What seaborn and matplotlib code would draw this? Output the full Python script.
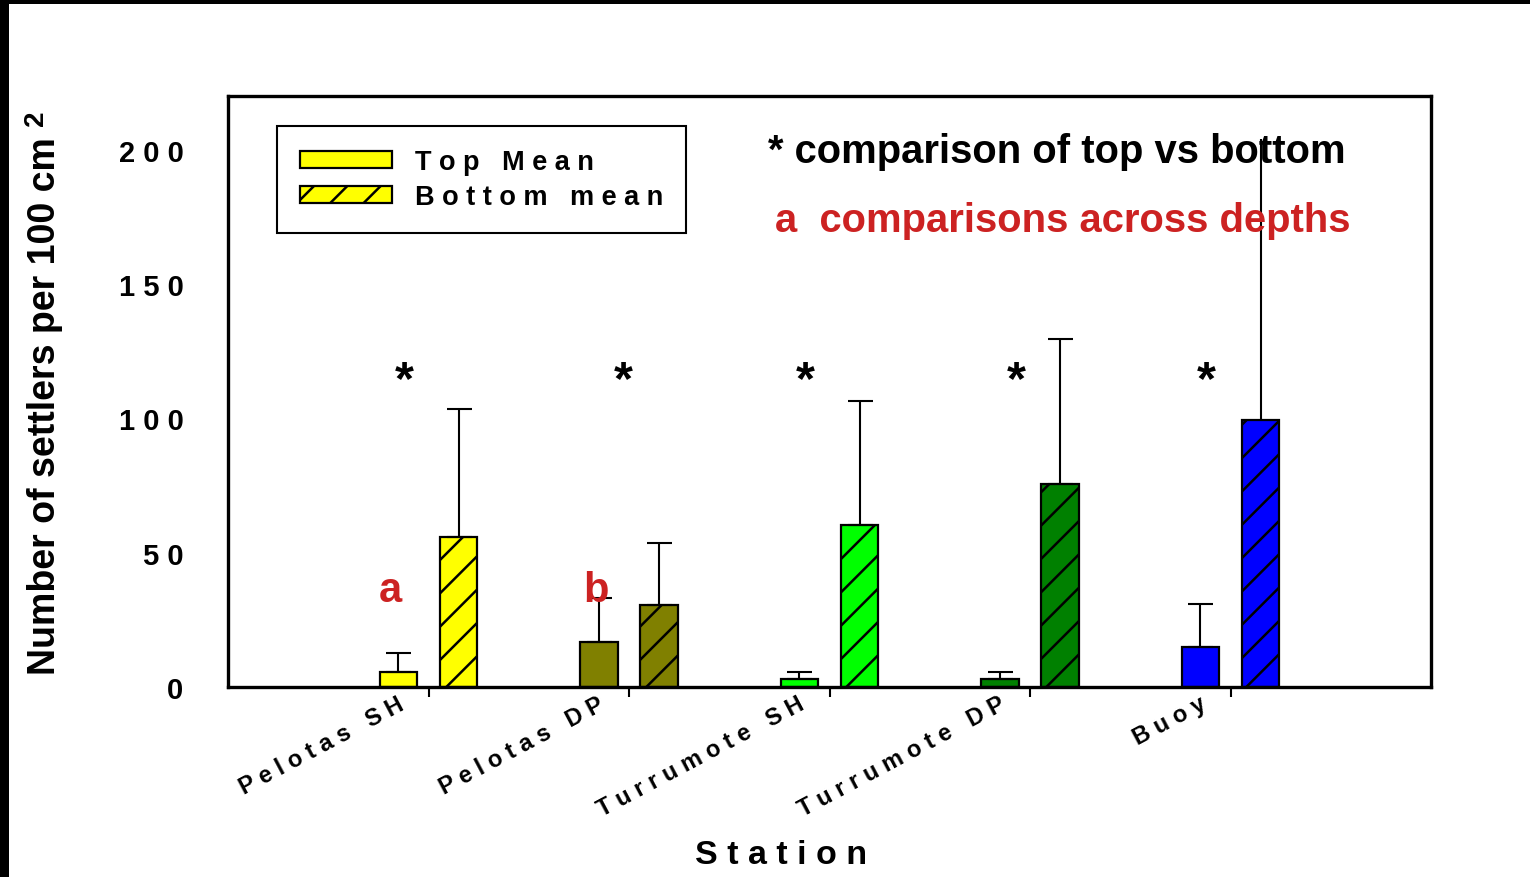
import matplotlib
matplotlib.use("Agg")
import matplotlib.pyplot as plt
import matplotlib.transforms as mtransforms
from matplotlib.patches import Patch, Rectangle
import numpy as np
import pandas as pd
import seaborn as sns

# ---------------- data ----------------
stations = ["Pelotas SH", "Pelotas DP", "Turrumote SH", "Turrumote DP", "Buoy"]
station_colors = ["#FFFF00", "#808000", "#00FF00", "#008000", "#0000FF"]
top_mean = [5.6, 16.8, 3.0, 3.0, 14.9]
top_err = [7.1, 16.3, 2.6, 2.6, 16.0]
bottom_mean = [55.9, 30.5, 60.3, 75.6, 99.4]
bottom_err = [47.7, 23.1, 46.2, 54.0, 104.5]
series_names = ["Top Mean", "Bottom mean"]
y_ticks = [0, 50, 100, 150, 200]
star_groups = [0, 1, 2, 3, 4]
depth_letters = ["a", "b"]

# ---------------- style ----------------
sns.set_style("white")
plt.rcParams["font.family"] = ["Liberation Sans", "DejaVu Sans"]
plt.rcParams["font.weight"] = "bold"
plt.rcParams["hatch.linewidth"] = 1.8
for key in ["text.color", "axes.labelcolor", "xtick.color", "ytick.color", "axes.edgecolor"]:
    plt.rcParams[key] = "black"


def spaced(s, sep=" "):
    return sep.join(s)


positions = np.arange(1, len(stations) + 1)
df = pd.DataFrame({
    "pos": np.concatenate([positions, positions]),
    "value": top_mean + bottom_mean,
    "level": [series_names[0]] * len(stations) + [series_names[1]] * len(stations),
})

fig = plt.figure(figsize=(15.3, 8.78), dpi=100)
ax = fig.add_axes([228 / 1530, 1 - 688 / 878, 1203 / 1530, 591 / 878])

sns.barplot(data=df, x="pos", y="value", hue="level", hue_order=series_names,
            native_scale=True, width=0.6, gap=0.38, errorbar=None,
            edgecolor="black", linewidth=1.5, legend=False, ax=ax)

bar_containers = list(ax.containers)
errs = [top_err, bottom_err]
for k, cont in enumerate(bar_containers):
    xs = []
    for bar, col in zip(cont, station_colors):
        bar.set_facecolor(col)
        bar.set_edgecolor("black")
        bar.set_linewidth(1.6)
        if k == 1:
            bar.set_hatch("/")
        xs.append(bar.get_x() + bar.get_width() / 2)
    heights = np.array([b.get_height() for b in cont])
    e = np.array(errs[k], dtype=float)
    capped = np.ones(len(e), dtype=bool)
    if k == 1:
        capped[-1] = False  # tallest error bar runs under the note, no cap visible
    xs = np.array(xs)
    ax.errorbar(xs[capped], heights[capped], yerr=[np.zeros(capped.sum()), e[capped]],
                fmt="none", ecolor="black", elinewidth=1.5, capsize=9, capthick=1.5, zorder=1)
    if (~capped).any():
        ax.errorbar(xs[~capped], heights[~capped], yerr=[np.zeros((~capped).sum()), e[~capped]],
                    fmt="none", ecolor="black", elinewidth=1.5, capsize=0, zorder=1)

# axes limits / ticks
ax.set_xlim(0, len(stations) + 1)
ax.set_ylim(0, 220)
ax.set_xticks(positions)
ax.set_xticklabels([])
label_tf = ax.get_xaxis_transform() + mtransforms.ScaledTranslation(-32 / 100, -5 / 100, fig.dpi_scale_trans)
for p, s in zip(positions, stations):
    ax.text(p, 0, spaced(s), transform=label_tf, rotation=28, ha="right", va="top",
            rotation_mode="anchor", fontsize=17, fontweight="bold", clip_on=False)
ax.set_yticks(y_ticks)
ax.set_yticklabels([spaced(str(v)) for v in y_ticks], fontsize=21, fontweight="bold")
ax.tick_params(axis="x", length=7, width=1.5, direction="out", pad=6, bottom=True)
ax.tick_params(axis="y", length=0, pad=32, left=False)

for side in ["left", "right", "top", "bottom"]:
    ax.spines[side].set_visible(True)
    ax.spines[side].set_color("black")
    ax.spines[side].set_linewidth(2.4)
ax.grid(False)

ax.set_xlabel(spaced("Station"), fontsize=24.5, fontweight="bold", va="top")
ax.xaxis.set_label_coords((781 - 228) / 1203, (688 - 840) / 591)
ax.set_ylabel("Number of settlers per 100 cm", fontsize=27, fontweight="bold", va="center")
ax.yaxis.set_label_coords((45 - 228) / 1203, (688 - 406) / 591)
fig.text(36 / 1530, 1 - 118 / 878, "2", rotation=90, fontsize=20, fontweight="bold",
         ha="center", va="center")

# significance markers
star_offsets = [-0.12, -0.03, -0.12, -0.07, -0.12]
for g in star_groups:
    ax.text(positions[g] + star_offsets[g], 109.5, "*", fontsize=35, fontweight="bold",
            ha="center", va="baseline")
letter_offsets = [-0.19, -0.165]
for g, letter in enumerate(depth_letters):
    ax.text(positions[g] + letter_offsets[g], 32, letter, fontsize=30, fontweight="bold",
            ha="center", va="baseline", color="#CC2222")

ax.text((768 - 228) / 1203, (688 - 163) / 591, "* comparison of top vs bottom",
        transform=ax.transAxes, fontsize=28.8, fontweight="bold",
        ha="left", va="baseline")
ax.text((775 - 228) / 1203, (688 - 232) / 591, "a  comparisons across depths",
        transform=ax.transAxes, fontsize=28.8, fontweight="bold", color="#CC2222",
        ha="left", va="baseline")

# legend
handles = [
    Patch(facecolor=station_colors[0], edgecolor="black", linewidth=1.6, label=spaced(series_names[0])),
    Patch(facecolor=station_colors[0], edgecolor="black", linewidth=1.6, hatch="/",
          label=spaced(series_names[1])),
]
leg = ax.legend(handles=handles, loc="upper left",
                bbox_to_anchor=((277 - 228) / 1203, (688 - 127) / 591),
                borderaxespad=0, frameon=True, fancybox=False,
                edgecolor="black", framealpha=1, handlelength=3.4, handleheight=0.6,
                handletextpad=0.85, labelspacing=0.33, borderpad=0.85,
                prop={"weight": "bold", "size": 19.5})
leg.get_frame().set_linewidth(1.5)
for t in leg.get_texts():
    t.set_color("black")

# black border strips of the original frame
fig.add_artist(Rectangle((0, 1 - 5 / 878), 1, 5 / 878, transform=fig.transFigure,
                         facecolor="black", edgecolor="none"))
fig.add_artist(Rectangle((0, 0), 9 / 1530, 1, transform=fig.transFigure,
                         facecolor="black", edgecolor="none"))

fig.savefig("out.png", dpi=100, facecolor="white")
